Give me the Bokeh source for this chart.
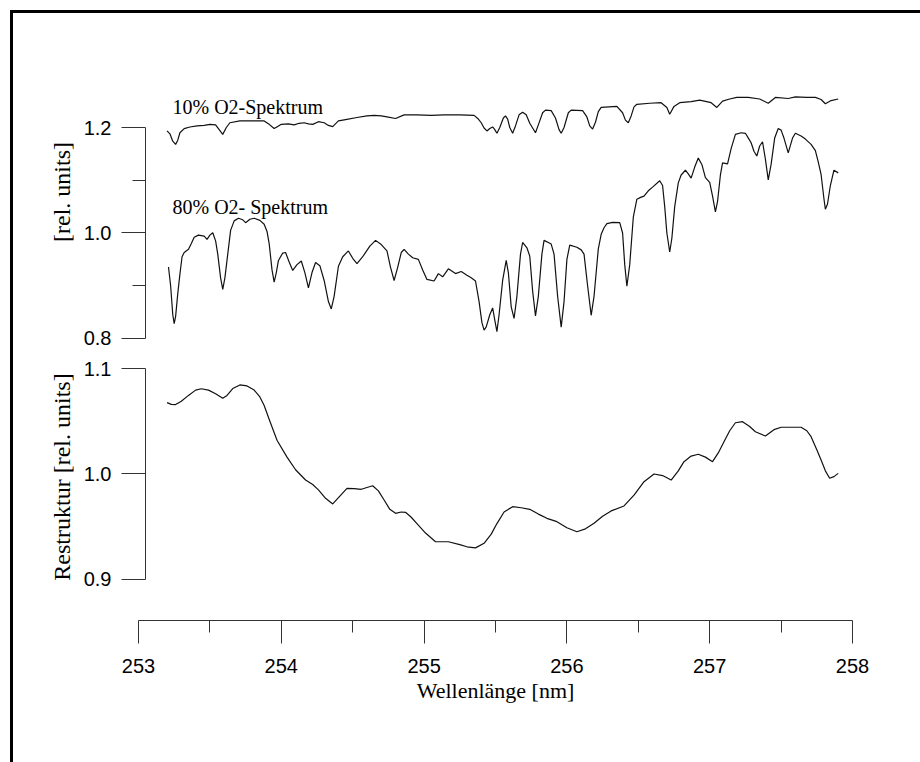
from bokeh.plotting import figure
from bokeh.layouts import column
from bokeh.models import Range1d, FixedTicker, Label, PrintfTickFormatter
from bokeh.embed import file_html
from bokeh.resources import INLINE

# ---------------- data ----------------
wl_10 = [253.20, 253.22, 253.24, 253.26, 253.275, 253.29, 253.32, 253.36, 253.41, 253.46,
         253.50, 253.54, 253.565, 253.59, 253.615, 253.64, 253.71, 253.80, 253.88, 253.915,
         253.95, 253.975, 254.00, 254.05, 254.09, 254.125, 254.16, 254.19, 254.22, 254.26,
         254.30, 254.33, 254.36, 254.40, 254.45, 254.53, 254.60, 254.65, 254.70, 254.74,
         254.80, 254.86, 254.95, 255.05, 255.14, 255.25, 255.35, 255.38, 255.40,
         255.42, 255.44, 255.46, 255.48, 255.495, 255.51, 255.53, 255.555, 255.57, 255.585,
         255.60, 255.62, 255.64, 255.665, 255.69, 255.715, 255.74, 255.78, 255.80, 255.83,
         255.85, 255.89, 255.92, 255.945, 255.96, 255.98, 256.01, 256.03, 256.11, 256.14,
         256.16, 256.18, 256.20, 256.22, 256.24, 256.35, 256.39, 256.41, 256.43, 256.45,
         256.47, 256.49, 256.58, 256.66, 256.70, 256.72, 256.75, 256.79, 256.87, 256.93,
         257.01, 257.05, 257.09, 257.14, 257.19, 257.27, 257.35, 257.41, 257.46, 257.55,
         257.60, 257.68, 257.74, 257.78, 257.81, 257.85, 257.90]
o2_10 = [1.1935, 1.188, 1.174, 1.168, 1.176, 1.190, 1.198, 1.201, 1.203, 1.204,
         1.206, 1.205, 1.196, 1.187, 1.200, 1.209, 1.2125, 1.2125, 1.2125, 1.206,
         1.198, 1.202, 1.206, 1.207, 1.205, 1.208, 1.209, 1.207, 1.206, 1.211,
         1.209, 1.204, 1.2017, 1.2125, 1.215, 1.219, 1.222, 1.223, 1.222, 1.220,
         1.217, 1.224, 1.224, 1.223, 1.224, 1.224, 1.223, 1.216, 1.209,
         1.199, 1.1935, 1.198, 1.201, 1.196, 1.189, 1.200, 1.218, 1.222, 1.216,
         1.200, 1.189, 1.203, 1.224, 1.229, 1.224, 1.208, 1.190, 1.205, 1.228,
         1.233, 1.232, 1.218, 1.196, 1.189, 1.200, 1.228, 1.233, 1.232, 1.220,
         1.203, 1.197, 1.210, 1.230, 1.238, 1.240, 1.228, 1.214, 1.209, 1.222,
         1.239, 1.244, 1.246, 1.247, 1.238, 1.225, 1.240, 1.247, 1.249, 1.252,
         1.247, 1.238, 1.250, 1.254, 1.257, 1.257, 1.254, 1.246, 1.257, 1.255,
         1.258, 1.257, 1.257, 1.253, 1.245, 1.251, 1.254]

wl_80 = [253.21, 253.225, 253.24, 253.25, 253.26, 253.275, 253.29, 253.305, 253.32, 253.35,
         253.37, 253.39, 253.42, 253.46, 253.48, 253.50, 253.52, 253.54, 253.555, 253.575,
         253.59, 253.605, 253.625, 253.645, 253.67, 253.70, 253.73, 253.75, 253.78, 253.81,
         253.85, 253.88, 253.90, 253.915, 253.935, 253.95, 253.965, 253.98, 254.01, 254.03,
         254.055, 254.08, 254.11, 254.14, 254.165, 254.19, 254.215, 254.24, 254.27, 254.30,
         254.33, 254.35, 254.37, 254.40, 254.43, 254.47, 254.50, 254.53, 254.57, 254.62,
         254.66, 254.70, 254.74, 254.765, 254.79, 254.815, 254.84, 254.86, 254.89, 254.92,
         254.96, 254.99, 255.02, 255.07, 255.10, 255.13, 255.17, 255.22, 255.26, 255.30,
         255.33, 255.36, 255.385, 255.405, 255.42, 255.435, 255.46, 255.48, 255.495, 255.51,
         255.525, 255.55, 255.575, 255.59, 255.61, 255.63, 255.65, 255.675, 255.69, 255.72,
         255.74, 255.76, 255.78, 255.80, 255.825, 255.84, 255.87, 255.89, 255.91, 255.935,
         255.96, 255.98, 256.00, 256.02, 256.07, 256.10, 256.12, 256.145, 256.17, 256.19,
         256.22, 256.24, 256.26, 256.28, 256.32, 256.37, 256.39, 256.405, 256.42, 256.44,
         256.465, 256.49, 256.52, 256.54, 256.57, 256.60, 256.65, 256.67, 256.685, 256.70,
         256.72, 256.735, 256.755, 256.78, 256.80, 256.83, 256.85, 256.87, 256.895, 256.92,
         256.945, 256.97, 257.00, 257.02, 257.04, 257.055, 257.075, 257.09, 257.125, 257.15,
         257.18, 257.22, 257.25, 257.275, 257.29, 257.31, 257.33, 257.35, 257.37, 257.39,
         257.41, 257.43, 257.455, 257.48, 257.50, 257.52, 257.55, 257.58, 257.60, 257.64,
         257.67, 257.71, 257.74, 257.76, 257.78, 257.80, 257.81, 257.825, 257.845, 257.87,
         257.90]
o2_80 = [0.9355, 0.900, 0.845, 0.828, 0.842, 0.885, 0.922, 0.955, 0.963, 0.969,
         0.980, 0.992, 0.996, 0.994, 0.988, 0.996, 1.0006, 0.985, 0.960, 0.915,
         0.893, 0.915, 0.960, 1.005, 1.023, 1.028, 1.025, 1.0196, 1.026, 1.028,
         1.024, 1.0165, 1.003, 0.980, 0.930, 0.907, 0.925, 0.948, 0.962, 0.963,
         0.945, 0.929, 0.940, 0.947, 0.925, 0.896, 0.925, 0.944, 0.938, 0.910,
         0.870, 0.856, 0.880, 0.937, 0.955, 0.966, 0.952, 0.942, 0.955, 0.975,
         0.986, 0.978, 0.966, 0.935, 0.910, 0.935, 0.963, 0.969, 0.960, 0.953,
         0.950, 0.930, 0.912, 0.909, 0.923, 0.917, 0.932, 0.923, 0.927, 0.920,
         0.915, 0.909, 0.870, 0.830, 0.816, 0.822, 0.845, 0.858, 0.835, 0.813,
         0.845, 0.910, 0.948, 0.925, 0.860, 0.838, 0.880, 0.960, 0.982, 0.972,
         0.956, 0.890, 0.843, 0.880, 0.960, 0.986, 0.982, 0.979, 0.960, 0.880,
         0.8216, 0.870, 0.950, 0.977, 0.973, 0.968, 0.960, 0.900, 0.844, 0.880,
         0.970, 0.9975, 1.010, 1.0177, 1.020, 1.0196, 1.000, 0.940, 0.899, 0.940,
         1.030, 1.064, 1.068, 1.070, 1.080, 1.087, 1.099, 1.090, 1.050, 1.000,
         0.964, 0.990, 1.050, 1.095, 1.110, 1.119, 1.112, 1.104, 1.125, 1.142,
         1.130, 1.105, 1.096, 1.070, 1.040, 1.060, 1.110, 1.133, 1.131, 1.160,
         1.187, 1.190, 1.189, 1.178, 1.171, 1.155, 1.146, 1.165, 1.173, 1.140,
         1.1006, 1.130, 1.180, 1.198, 1.195, 1.180, 1.152, 1.180, 1.189, 1.184,
         1.178, 1.168, 1.156, 1.135, 1.111, 1.065, 1.045, 1.055, 1.090, 1.119,
         1.114]

wl_res = [253.20, 253.23, 253.26, 253.30, 253.35, 253.40, 253.44, 253.49, 253.54, 253.59,
          253.62, 253.66, 253.71, 253.76, 253.81, 253.85, 253.88, 253.92, 253.97, 254.04,
          254.10, 254.17, 254.22, 254.26, 254.31, 254.36, 254.41, 254.46, 254.51, 254.56,
          254.64, 254.68, 254.72, 254.76, 254.80, 254.84, 254.87, 254.91, 254.95, 255.01,
          255.08, 255.17, 255.25, 255.30, 255.36, 255.42, 255.47, 255.51, 255.56, 255.62,
          255.68, 255.74, 255.80, 255.86, 255.93, 256.00, 256.07, 256.13, 256.19, 256.25,
          256.31, 256.40, 256.47, 256.54, 256.61, 256.67, 256.73, 256.78, 256.82, 256.87,
          256.92, 256.97, 257.02, 257.06, 257.10, 257.14, 257.18, 257.23, 257.28, 257.32,
          257.39, 257.45, 257.50, 257.57, 257.64, 257.68, 257.71, 257.75, 257.78, 257.81,
          257.84, 257.87, 257.90]
res = [1.0676, 1.0660, 1.0658, 1.0690, 1.0745, 1.0795, 1.0808, 1.0795, 1.0760, 1.0717,
       1.0745, 1.0810, 1.0844, 1.0835, 1.0796, 1.0730, 1.0650, 1.0500, 1.0320, 1.0160,
       1.0040, 0.9943, 0.9900, 0.9850, 0.9770, 0.9716, 0.9790, 0.9864, 0.9862, 0.9855,
       0.9889, 0.9840, 0.9754, 0.9665, 0.9627, 0.9640, 0.9637, 0.9590, 0.9530, 0.9440,
       0.9358, 0.9358, 0.9330, 0.9310, 0.9300, 0.9343, 0.9430, 0.9530, 0.9640, 0.9690,
       0.9680, 0.9665, 0.9620, 0.9580, 0.9548, 0.9490, 0.9453, 0.9480, 0.9533, 0.9600,
       0.9650, 0.9697, 0.9800, 0.9927, 1.0000, 0.9985, 0.9943, 1.0030, 1.0117, 1.0170,
       1.0187, 1.0160, 1.0117, 1.0200, 1.0306, 1.0410, 1.0486, 1.0496, 1.0450, 1.0400,
       1.0360, 1.0420, 1.0443, 1.0443, 1.0443, 1.0410, 1.0354, 1.0230, 1.0133, 1.0030,
       0.9960, 0.9975, 1.0006]

upper_ticks = [0.8, 1.0, 1.2]
upper_minor = [0.9, 1.1]
lower_ticks = [0.9, 1.0, 1.1]
x_ticks = [253, 254, 255, 256, 257, 258]
x_minor = [253.5, 254.5, 255.5, 256.5, 257.5]

label_10 = "10% O2-Spektrum"
label_80 = "80% O2- Spektrum"
ylabel_top = "[rel. units]"
ylabel_bottom = "Restruktur [rel. units]"
xlabel = "Wellenlänge [nm]"

# ---------------- styling ----------------
SANS = "Liberation Sans"
SERIF = "Liberation Serif"
LINE = "#111111"
AX = "#333333"
W = 907


def style_yaxis(ax, ticks, minor, bounds, label):
    ax.ticker = FixedTicker(ticks=ticks, minor_ticks=minor)
    ax.bounds = bounds
    ax.formatter = PrintfTickFormatter(format="%.1f")
    ax.axis_line_color = AX
    ax.major_tick_line_color = AX
    ax.minor_tick_line_color = AX
    ax.major_tick_out = 24
    ax.major_tick_in = 0
    ax.minor_tick_out = 13
    ax.minor_tick_in = 0
    ax.major_label_text_font = SANS
    ax.major_label_text_font_size = "20px"
    ax.major_label_text_color = "black"
    ax.major_label_standoff = 10
    ax.axis_label = label
    ax.axis_label_text_font = SERIF
    ax.axis_label_text_font_style = "normal"
    ax.axis_label_text_font_size = "24px"
    ax.axis_label_text_color = "black"
    ax.axis_label_standoff = 6


def base_fig(height, x0, x1, y0, y1, left, top, bottom):
    p = figure(width=W, height=height, output_backend="svg", toolbar_location=None,
               x_range=Range1d(x0, x1), y_range=Range1d(y0, y1),
               min_border_left=left, min_border_right=68,
               min_border_top=top, min_border_bottom=bottom,
               x_axis_location=None, frame_align=False)
    p.outline_line_color = None
    p.grid.grid_line_color = None
    p.background_fill_color = "white"
    p.border_fill_color = "white"
    return p


xa0 = 253.0 + 7 / 142.8

# upper panel: spectra
pA = base_fig(340, xa0, 258.0, 0.77156, 1.38389, 132, 17, 0)
pA.line(wl_10, o2_10, line_color=LINE, line_width=1.2)
pA.line(wl_80, o2_80, line_color=LINE, line_width=1.2)
style_yaxis(pA.yaxis[0], upper_ticks, upper_minor, (0.8, 1.2), ylabel_top)
pA.add_layout(Label(x=253.238, y=1.2389, text=label_10, text_font=SERIF,
                    text_font_size="20px", text_baseline="alphabetic", text_color="black"))
pA.add_layout(Label(x=253.238, y=1.0502, text=label_80, text_font=SERIF,
                    text_font_size="20px", text_baseline="alphabetic", text_color="black"))

# lower panel: residual structure
pB = base_fig(247, xa0, 258.0, 0.88009, 1.11422, 132, 0, 0)
pB.line(wl_res, res, line_color=LINE, line_width=1.2)
style_yaxis(pB.yaxis[0], lower_ticks, [], (0.9, 1.1), ylabel_bottom)

# x axis strip
pC = figure(width=W, height=162, output_backend="svg", toolbar_location=None,
            x_range=Range1d(253.0, 258.0), y_range=Range1d(0, 1),
            min_border_left=125, min_border_right=68, min_border_top=0, min_border_bottom=142,
            y_axis_location=None, frame_align=False)
pC.outline_line_color = None
pC.grid.grid_line_color = None
xa = pC.xaxis[0]
xa.ticker = FixedTicker(ticks=x_ticks, minor_ticks=x_minor)
xa.axis_line_color = AX
xa.major_tick_line_color = AX
xa.minor_tick_line_color = AX
xa.major_tick_out = 23
xa.major_tick_in = 0
xa.minor_tick_out = 12
xa.minor_tick_in = 0
xa.major_label_text_font = SANS
xa.major_label_text_font_size = "20px"
xa.major_label_text_color = "black"
xa.major_label_standoff = 15
xa.axis_label = xlabel
xa.axis_label_text_font = SERIF
xa.axis_label_text_font_style = "normal"
xa.axis_label_text_font_size = "22px"
xa.axis_label_text_color = "black"
xa.axis_label_standoff = 2

layout = column(pA, pB, pC, spacing=0)
layout.margin = (10, 0, 0, 10)
layout.styles = {"border-top": "3px solid black", "border-left": "3px solid black"}

open("out.html", "w").write(file_html(layout, INLINE, title="O2 Spektrum"))
